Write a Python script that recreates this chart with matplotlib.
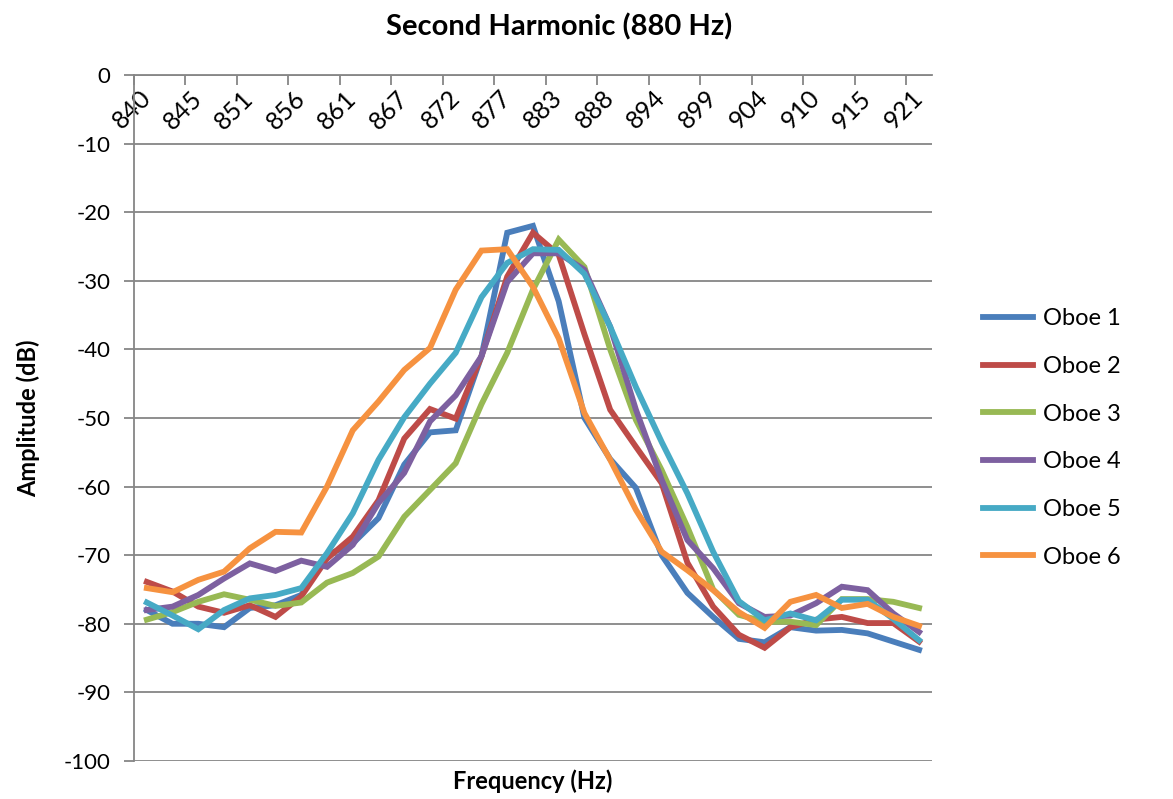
import matplotlib.pyplot as plt
import numpy as np

plt.rcParams['font.family'] = ['Lato', 'DejaVu Sans']
plt.rcParams['axes.unicode_minus'] = False

# x axis: 31 frequency bins, every other one is labelled
tick_labels = ['840', '845', '851', '856', '861', '867', '872', '877',
               '883', '888', '894', '899', '904', '910', '915', '921']

oboe1 = [-78, -80, -80, -80.5, -77.7, -77.3, -75.8, -70, -68.3, -64.6, -56.8,
         -52.1, -51.8, -41, -23, -22, -33, -50, -56, -60.2, -70, -75.5, -79,
         -82.2, -82.7, -80.5, -81, -80.9, -81.4, -82.6, -83.8]
oboe2 = [-73.9, -75.3, -77.5, -78.4, -77.3, -79, -76, -70.5, -67.3, -62, -53,
         -48.7, -50.1, -41, -29.4, -23, -26.2, -37.8, -48.8, -54.2, -59.5,
         -71.1, -77.5, -81.6, -83.5, -80.5, -79.4, -79, -79.9, -79.9, -82.6]
oboe3 = [-79.4, -78.3, -76.8, -75.7, -76.5, -77.4, -76.9, -74, -72.6, -70.2,
         -64.4, -60.5, -56.6, -48, -40.5, -31.3, -24, -28, -40, -50.3, -57.6,
         -65.9, -75, -78.7, -79.7, -79.7, -80.2, -76.4, -76.4, -76.8, -77.7]
oboe4 = [-78, -77.5, -75.8, -73.4, -71.2, -72.3, -70.8, -71.7, -68.5, -62.4,
         -58, -50.5, -46.7, -41, -30.2, -26, -26, -28.4, -36.7, -48.8, -59,
         -67.8, -71.9, -77, -79, -78.8, -77, -74.6, -75.1, -78.5, -81.2]
oboe5 = [-76.9, -78.8, -80.8, -78, -76.3, -75.8, -74.8, -69.7, -63.9, -56.1,
         -49.9, -45, -40.5, -32.4, -27.4, -25.4, -25.5, -29, -36.7, -45.5,
         -53.5, -61, -69.5, -76.7, -79.5, -78.5, -79.5, -76.5, -76.5, -79.3, -82.4]
oboe6 = [-74.8, -75.4, -73.6, -72.4, -69, -66.6, -66.7, -60, -51.8, -47.6, -43,
         -39.8, -31.3, -25.6, -25.4, -30.9, -38.4, -49.3, -56.1, -63.4, -69.5,
         -72.2, -75.1, -78.3, -80.6, -76.8, -75.8, -77.7, -77.1, -79, -80.3]

series = [oboe1, oboe2, oboe3, oboe4, oboe5, oboe6]
names = ['Oboe 1', 'Oboe 2', 'Oboe 3', 'Oboe 4', 'Oboe 5', 'Oboe 6']
colors = ['#4A7EBB', '#BE4B48', '#98B954', '#7D60A0', '#46AAC5', '#F69240']

fig = plt.figure(figsize=(11.73, 7.99), dpi=100)
ax = fig.add_axes([0.1142, 0.0476, 0.6803, 0.8586])

x = np.arange(len(oboe1))
for vals, name, c in zip(series, names, colors):
    ax.plot(x, vals, color=c, lw=4.2, label=name, solid_joinstyle='miter')

grid_c = '#868686'
ax.set_xlim(-0.5, len(x) - 0.5)
ax.set_ylim(-100, 0)
ax.set_yticks(np.arange(-100, 1, 10))
ax.yaxis.grid(True, color=grid_c, lw=1.3)
ax.set_axisbelow(True)

# category axis sits at y = 0, ticks between label pairs
ax.spines['bottom'].set_position(('data', 0))
ax.spines['bottom'].set_color(grid_c)
ax.spines['bottom'].set_linewidth(1.3)
ax.spines['left'].set_color(grid_c)
ax.spines['left'].set_linewidth(1.3)
ax.spines['top'].set_visible(False)
ax.spines['right'].set_visible(False)

ax.set_xticks(np.arange(-0.5, len(x) - 1, 2))
ax.set_xticklabels([])
ax.set_xticks(np.arange(0, len(x), 2), tick_labels, minor=True)
ax.tick_params(axis='x', which='major', direction='out', length=7, width=1.3, color=grid_c)
ax.tick_params(axis='x', which='minor', length=0, pad=14, labelsize=18)
for lab in ax.get_xticklabels(minor=True):
    lab.set_rotation(45)
    lab.set_rotation_mode('anchor')
    lab.set_ha('right')
    lab.set_va('center')
ax.tick_params(axis='y', direction='out', length=7, width=1.3, color=grid_c, labelsize=16, pad=10)

fig.text(0.4766, 0.966, 'Second Harmonic (880 Hz)', ha='center', va='center',
         fontsize=21, fontweight='bold')
fig.text(0.024, 0.477, 'Amplitude (dB)', rotation=90, ha='center', va='center',
         fontsize=17, fontweight='bold')
fig.text(0.4545, 0.022, 'Frequency (Hz)', ha='center', va='center',
         fontsize=17, fontweight='bold')

fig.legend(loc='center left', bbox_to_anchor=(0.82, 0.452), frameon=False,
           fontsize=17, handlelength=2.1, labelspacing=1.13, handletextpad=0.45)

fig.savefig('out.png', dpi=100)
